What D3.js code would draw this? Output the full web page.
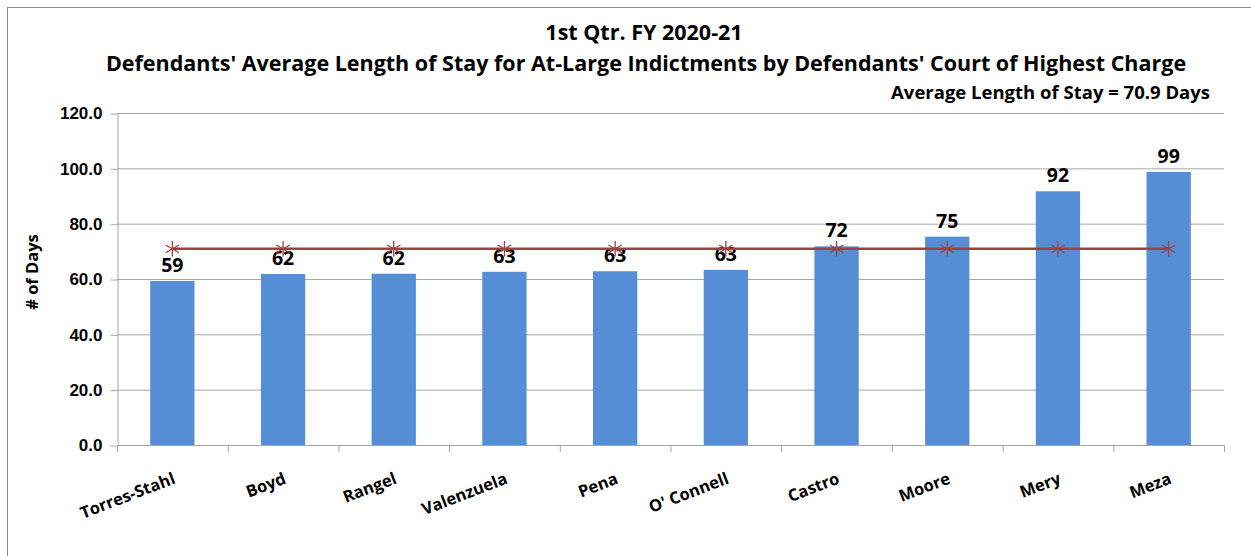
<!DOCTYPE html>
<html lang="en">
<head>
<meta charset="UTF-8">
<title>Average Length of Stay</title>
<style>
  body { margin: 0; background: #fff; }
  svg { display: block; font-family: "Open Sans", Lato, sans-serif; }
  .grid line { stroke: #a6a6a6; stroke-width: 1; }
  .axis path, .axis line { stroke: #a6a6a6; }
  .axis text { font-weight: bold; fill: #000; }
</style>
</head>
<body>
<svg width="1251" height="556"></svg>
<script src="https://cdn.jsdelivr.net/npm/d3@7"></script>
<script>
  // data
  const judges = ["Torres-Stahl", "Boyd", "Rangel", "Valenzuela", "Pena", "O' Connell", "Castro", "Moore", "Mery", "Meza"];
  const avgStay = [59.3, 61.8, 61.9, 62.6, 62.8, 63.3, 71.8, 75.3, 91.7, 98.7];
  const overallAvg = 70.9;
  const yTicks = [0, 20, 40, 60, 80, 100, 120];

  const svg = d3.select("svg");

  // outer frame
  svg.append("rect")
    .attr("x", 7.5).attr("y", 7.5)
    .attr("width", 1260).attr("height", 560)
    .attr("fill", "none").attr("stroke", "#8c8c8c");

  const plotL = 117, plotR = 1224, plotT = 113, plotB = 445;

  const x = d3.scaleBand().domain(judges).range([plotL, plotR]).paddingInner(0.6).paddingOuter(0.3);
  const xb = d3.scaleBand().domain(judges).range([plotL, plotR]);
  const y = d3.scaleLinear().domain([0, 120]).range([plotB, plotT]);

  // titles
  svg.append("text").attr("x", 644).attr("y", 40).attr("text-anchor", "middle")
    .attr("font-size", 21.5).attr("font-weight", "bold").text("1st Qtr. FY 2020-21");
  svg.append("text").attr("x", 646).attr("y", 71).attr("text-anchor", "middle")
    .attr("font-size", 21.5).attr("font-weight", "bold")
    .text("Defendants' Average Length of Stay for At-Large Indictments by Defendants' Court of Highest Charge");
  svg.append("text").attr("x", 1210).attr("y", 99).attr("text-anchor", "end")
    .attr("font-size", 18.5).attr("font-weight", "bold")
    .text("Average Length of Stay = " + overallAvg + " Days");

  // gridlines
  svg.append("g").attr("class", "grid")
    .selectAll("line").data(yTicks.slice(1)).enter().append("line")
    .attr("x1", plotL).attr("x2", plotR)
    .attr("y1", d => y(d) + 0.5).attr("y2", d => y(d) + 0.5);

  // y axis
  const yAxis = svg.append("g").attr("class", "axis")
    .attr("transform", `translate(${plotL + 0.5},0.5)`)
    .call(d3.axisLeft(y).tickValues(yTicks).tickFormat(d3.format(".1f")).tickSize(7).tickSizeOuter(0));
  yAxis.selectAll("text").attr("font-size", 17).attr("x", -15);

  svg.append("text")
    .attr("transform", "translate(38,272) rotate(-90)")
    .attr("text-anchor", "middle").attr("font-size", 16.5).attr("font-weight", "bold")
    .text("# of Days");

  // bars
  svg.selectAll(".bar").data(avgStay).enter().append("rect")
    .attr("class", "bar")
    .attr("x", (d, i) => x(judges[i]))
    .attr("width", x.bandwidth())
    .attr("y", d => y(d))
    .attr("height", d => y(0) - y(d))
    .attr("fill", "#558ed5");

  // x axis with ticks at category boundaries
  const xAxis = svg.append("g").attr("class", "axis");
  xAxis.append("line").attr("x1", plotL).attr("x2", plotR)
    .attr("y1", plotB + 0.5).attr("y2", plotB + 0.5);
  xAxis.selectAll(".xtick").data(judges.concat([null])).enter().append("line")
    .attr("x1", (d, i) => plotL + i * xb.bandwidth() + 0.5)
    .attr("x2", (d, i) => plotL + i * xb.bandwidth() + 0.5)
    .attr("y1", plotB).attr("y2", plotB + 7);
  xAxis.selectAll(".xlab").data(judges).enter().append("text")
    .attr("text-anchor", "end").attr("font-size", 16.5)
    .attr("transform", d => `translate(${xb(d) + xb.bandwidth() / 2 + 4},${plotB + 38}) rotate(-21)`)
    .text(d => d);

  // value labels (the average line is drawn over them, as in the original)
  svg.selectAll(".val").data(avgStay).enter().append("text")
    .attr("x", (d, i) => x(judges[i]) + x.bandwidth() / 2)
    .attr("y", d => y(d) - 9)
    .attr("text-anchor", "middle").attr("font-size", 19.5).attr("font-weight", "bold")
    .text(d => Math.round(d));

  // average line
  const line = d3.line().x((d, i) => xb(judges[i]) + xb.bandwidth() / 2).y(() => y(overallAvg));
  svg.append("path").datum(avgStay).attr("d", line)
    .attr("fill", "none").attr("stroke", "#a0413f").attr("stroke-width", 2.5);
  const star = d3.symbol().type(d3.symbolAsterisk).size(170);
  svg.selectAll(".mark").data(judges).enter().append("path")
    .attr("transform", d => `translate(${xb(d) + xb.bandwidth() / 2},${y(overallAvg)})`)
    .attr("d", star())
    .attr("fill", "none").attr("stroke", "#a0413f").attr("stroke-width", 1.3);
</script>
</body>
</html>
